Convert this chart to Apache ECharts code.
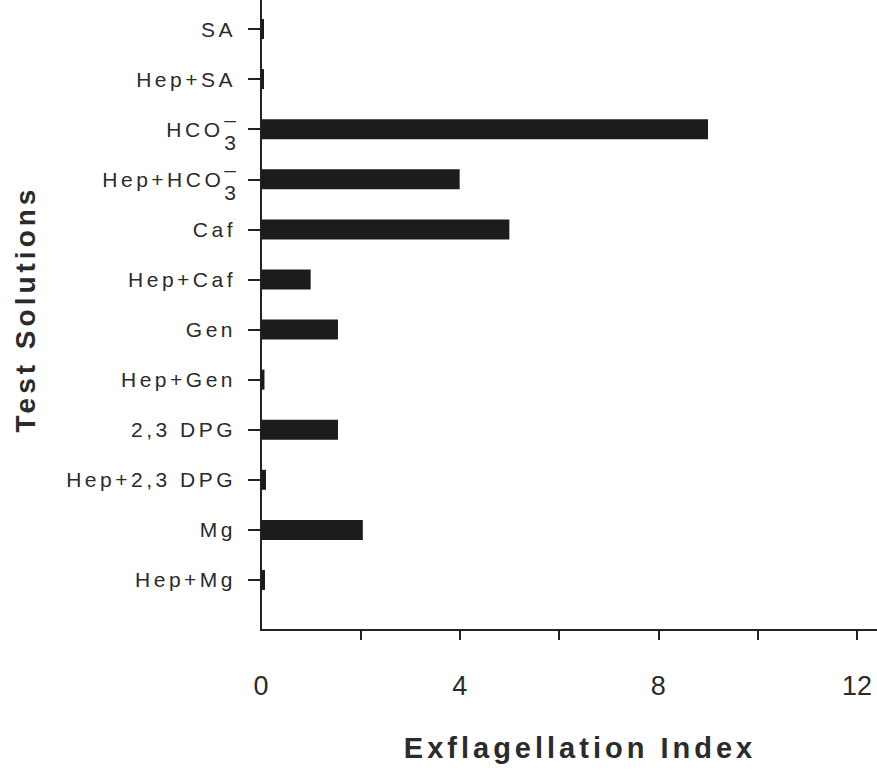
<!DOCTYPE html>
<html>
<head>
<meta charset="utf-8">
<script src="https://cdn.jsdelivr.net/npm/echarts@6/dist/echarts.min.js"></script>
<style>
  html, body { margin: 0; padding: 0; background: #ffffff; }
  #chart { width: 877px; height: 770px; }
  /* wide tracking of the figure lettering */
  #chart text { letter-spacing: 4px; }
  #chart text[style*="21px"] { letter-spacing: 3.5px; }
  #chart text[style*="27px"] { letter-spacing: 0; }
</style>
</head>
<body>
<div id="chart"></div>
<script>
// Test solutions, top to bottom
const categories = [
  'SA', 'Hep+SA', 'HCO3-', 'Hep+HCO3-', 'Caf', 'Hep+Caf',
  'Gen', 'Hep+Gen', '2,3 DPG', 'Hep+2,3 DPG', 'Mg', 'Hep+Mg'
];
// Exflagellation index for each solution
const exflagellationIndex = [0.06, 0.06, 9, 4, 5, 1, 1.55, 0.07, 1.55, 0.1, 2.05, 0.08];
// x-axis ticks and labelled values
const xTickValues = [2, 4, 6, 8, 10, 12];
const xLabelValues = [0, 4, 8, 12];

const INK = '#222222';
const TEXT = '#2b2b2b';
const FONT = '"Liberation Sans", Arial, Helvetica, sans-serif';
const LABEL_SIZE = 21;
const LABEL_TRACKING = 3.5;

// width of a tracked run of label text, so rich fragments line up
const measureCtx = document.createElement('canvas').getContext('2d');
function trackedWidth(s) {
  measureCtx.font = LABEL_SIZE + 'px ' + FONT;
  return Math.ceil(measureCtx.measureText(s).width + s.length * LABEL_TRACKING);
}

// bicarbonate is written with the charge stacked over the subscript
const richStyles = {
  sup: { fontSize: LABEL_SIZE, fontFamily: FONT, color: TEXT, align: 'left', width: 0, padding: [0, 0, 19, 0] },
  sub: { fontSize: LABEL_SIZE, fontFamily: FONT, color: TEXT, align: 'left', padding: [27, 0, 0, 0] }
};
function formatCategory(name, idx) {
  if (name.endsWith('HCO3-')) {
    const head = name.slice(0, -2);
    const key = 'h' + idx;
    richStyles[key] = {
      fontSize: LABEL_SIZE, fontFamily: FONT, color: TEXT,
      align: 'left', width: trackedWidth(head)
    };
    return '{' + key + '|' + head + '}{sup|–}{sub|3}';
  }
  return name;
}
const categoryLabels = categories.map(formatCategory);

const chart = echarts.init(document.getElementById('chart'), null, { renderer: 'svg' });

chart.setOption({
  animation: false,
  backgroundColor: '#ffffff',
  grid: [
    // plotting band for the bars
    { left: 261, right: 20, top: 4, height: 601 },
    // frame of the axes
    { left: 261, right: 0, top: 0, bottom: 140 }
  ],
  xAxis: [
    {
      gridIndex: 0,
      type: 'value',
      min: 0,
      max: 12,
      offset: 25,
      axisLine: { show: false },
      axisTick: {
        show: true,
        customValues: xTickValues,
        length: 10,
        lineStyle: { color: INK, width: 2 }
      },
      axisLabel: {
        customValues: xLabelValues,
        margin: 42,
        fontSize: 27,
        fontFamily: FONT,
        color: TEXT
      },
      splitLine: { show: false }
    },
    {
      gridIndex: 1,
      type: 'value',
      min: 0,
      max: 1,
      axisLine: { show: true, lineStyle: { color: INK, width: 2 } },
      axisTick: { show: false },
      axisLabel: { show: false },
      splitLine: { show: false },
      name: 'Exflagellation Index',
      nameLocation: 'middle',
      nameGap: 103,
      nameTextStyle: {
        fontSize: 29,
        fontWeight: 'bold',
        fontFamily: FONT,
        color: TEXT,
        padding: [0, 0, 0, 22]
      }
    }
  ],
  yAxis: [
    {
      gridIndex: 0,
      type: 'category',
      data: categories,
      inverse: true,
      axisLine: { show: false },
      axisTick: {
        show: true,
        alignWithLabel: true,
        length: 13,
        lineStyle: { color: INK, width: 2 }
      },
      axisLabel: {
        margin: 25,
        fontSize: LABEL_SIZE,
        fontFamily: FONT,
        color: TEXT,
        formatter: (value, idx) => categoryLabels[idx],
        rich: richStyles
      },
      splitLine: { show: false }
    },
    {
      gridIndex: 1,
      type: 'value',
      axisLine: { show: true, lineStyle: { color: INK, width: 2 } },
      axisTick: { show: false },
      axisLabel: { show: false },
      splitLine: { show: false },
      name: 'Test Solutions',
      nameLocation: 'middle',
      nameRotate: 90,
      nameGap: 222,
      nameTextStyle: {
        fontSize: 28,
        fontWeight: 'bold',
        fontFamily: FONT,
        color: TEXT,
        padding: [0, 0, 0, 12]
      }
    }
  ],
  series: [
    {
      type: 'bar',
      xAxisIndex: 0,
      yAxisIndex: 0,
      data: exflagellationIndex,
      barWidth: 20,
      itemStyle: { color: '#1c1c1c' },
      silent: true
    }
  ]
});
</script>
</body>
</html>
